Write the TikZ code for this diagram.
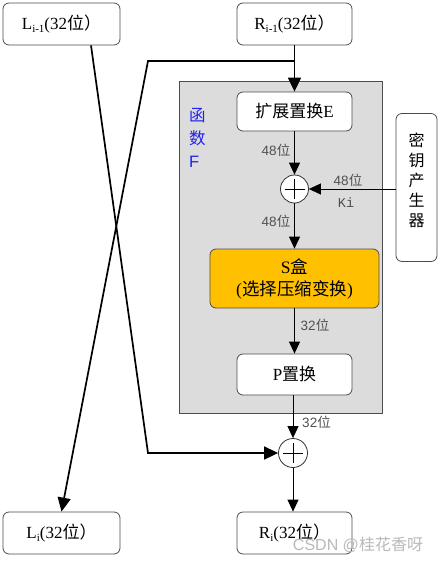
\documentclass[tikz,border=0pt]{standalone}
\usepackage{fontspec}
\setmainfont{Liberation Serif}
\newfontfamily\cjk{Noto Sans CJK SC}
\newfontfamily\labfont{Liberation Sans}
\newfontfamily\monofont{Liberation Mono}
\usetikzlibrary{arrows.meta}
\newcommand\sbs[1]{\raisebox{-0.4ex}{\fontsize{11}{11}\selectfont #1}}
\newcommand\cj[1]{{\cjk #1}}
\definecolor{sorange}{HTML}{FFC000}
\definecolor{fgrey}{HTML}{DCDCDC}
\definecolor{fblue}{HTML}{2020F0}
\definecolor{labgrey}{HTML}{505050}
\begin{document}
\begin{tikzpicture}[x=1pt,y=-1pt,
  rbox/.style={draw=black!70, line width=0.8pt, rounded corners=6pt, fill=white, inner sep=0pt, font=\fontsize{17}{19}\selectfont},
  xorc/.style={draw=black!80, line width=0.8pt, circle, fill=white, inner sep=0pt},
  thickln/.style={line width=1.7pt, -{Triangle[length=14pt,width=13pt]}},
  thinln/.style={line width=0.8pt, -{Triangle[length=12pt,width=11pt]}},
  lab/.style={text=labgrey, font={\fontsize{13.5}{14}\selectfont\labfont}, inner sep=0pt},
]
\useasboundingbox (0,0) rectangle (442,563);
% function box
\node[draw=black!70, fill=fgrey, line width=0.8pt, minimum width=203pt, minimum height=332pt, inner sep=0pt] (F) at (280.5,247) {};
\node[anchor=west, align=left, text=fblue, font=\fontsize{16.5}{23}\selectfont, inner sep=0pt] (fl) at (189,137.5) {\cj{函}\\\cj{数}\\{\labfont F}};
% boxes
\node[rbox, minimum width=117pt, minimum height=42pt] (L1) at (61.5,24) {L\sbs{i-1}(32\cj{位）}};
\node[rbox, minimum width=115pt, minimum height=42pt] (R1) at (294.5,24) {R\sbs{i-1}(32\cj{位）}};
\node[rbox, minimum width=115pt, minimum height=39pt] (E) at (294.5,111.5) {\cj{扩展置换}E};
\node[rbox, minimum width=41pt, minimum height=148pt] (K) at (416.5,187.5) {};
\node[align=center, inner sep=0pt, font=\fontsize{16}{20}\selectfont] (kt) at (416.5,180) {\cj{密}\\\cj{钥}\\\cj{产}\\\cj{生}\\\cj{器}};
\node[xorc, minimum size=28pt] (x1) at (294.5,189) {};
\node[rbox, fill=sorange, minimum width=169pt, minimum height=59pt, align=center, font=\fontsize{17.5}{22}\selectfont] (S) at (294.5,278.5) {S\cj{盒}\\(\cj{选择压缩变换})};
\node[rbox, minimum width=115pt, minimum height=41pt] (P) at (294.5,374.5) {P\cj{置换}};
\node[xorc, minimum size=29pt] (x2) at (293,453) {};
\node[rbox, minimum width=117pt, minimum height=42pt] (L2) at (61.5,533) {L\sbs{i}(32\cj{位）}};
\node[rbox, minimum width=115pt, minimum height=42pt] (R2) at (294.5,533) {R\sbs{i}(32\cj{位）}};
% xor plus signs
\draw[line width=0.8pt] ([xshift=-10pt]x1.center) -- ([xshift=10pt]x1.center);
\draw[line width=0.8pt] ([yshift=-10pt]x1.center) -- ([yshift=10pt]x1.center);
\draw[line width=0.8pt] ([xshift=-10pt]x2.center) -- ([xshift=10pt]x2.center);
\draw[line width=0.8pt] ([yshift=-10pt]x2.center) -- ([yshift=10pt]x2.center);
% crossing
\coordinate (a) at (148,61);
\coordinate (b) at (148,453);
\draw[thickln] ([xshift=29.5pt]L1.south) -- (b) -- (x2.west);
\draw[thickln] (R1.south |- a) -- (a) -- (L2.north);
\draw[thickln] (R1.south) -- (E.north);
% inner flow
\draw[thinln] (E.south) -- (x1.north);
\draw[thinln] (K.west |- x1) -- (x1.east);
\draw[thinln] (x1.south) -- (S.north);
\draw[thinln] (S.south) -- (P.north);
\draw[thinln] (P.south -| x2) -- (x2.north);
\draw[thinln] (x2.south) -- (R2.north -| x2);
% labels
\node[lab] (la) at (276,150) {48\cj{位}};
\node[lab] (lb) at (348,180) {48\cj{位}};
\node[lab, font={\fontsize{13.5}{14}\selectfont\monofont}] (lk) at (346,203) {Ki};
\node[lab] (lc) at (276,221) {48\cj{位}};
\node[lab] (ld) at (315,325) {32\cj{位}};
\node[lab] (le) at (316.5,422) {32\cj{位}};
% watermark
\node[text=gray!55, inner sep=0pt, font={\fontsize{16}{16}\selectfont\labfont}] (wm) at (358,545) {CSDN @\cj{桂花香呀}};
\end{tikzpicture}
\end{document}
